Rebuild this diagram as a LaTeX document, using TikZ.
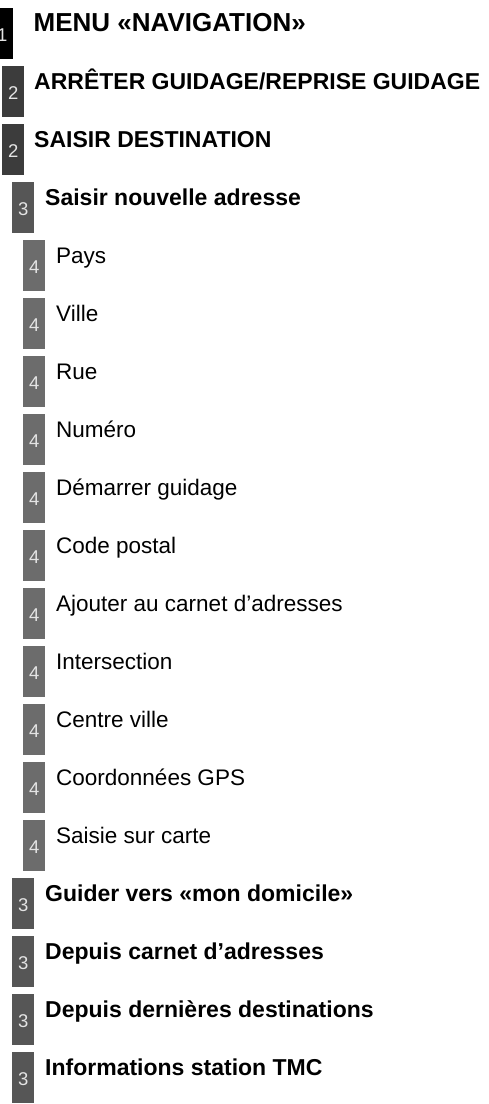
\documentclass[tikz,border=0pt]{standalone}
\usepackage{fontspec}
\setmainfont{Liberation Sans}
\definecolor{lvAcol}{HTML}{000000}
\definecolor{lvBcol}{HTML}{3C3C3C}
\definecolor{lvCcol}{HTML}{565656}
\definecolor{lvDcol}{HTML}{6C6C6C}
\definecolor{numcol}{HTML}{E4E4E4}
\tikzset{
  lvbox/.style={rectangle, inner sep=0pt, minimum width=22pt, minimum height=51pt, anchor=north west, draw=none},
  numtxt/.style={anchor=base, inner sep=0pt, text=numcol, font=\fontsize{18.5}{18.5}\selectfont},
  lvtextA/.style={anchor=base west, inner sep=0pt, font=\fontsize{26}{26}\selectfont\bfseries},
  lvtextB/.style={anchor=base west, inner sep=0pt, font=\fontsize{23}{23}\selectfont\bfseries},
  lvtextC/.style={anchor=base west, inner sep=0pt, font=\fontsize{23}{23}\selectfont\bfseries},
  lvtextD/.style={anchor=base west, inner sep=0pt, font=\fontsize{22.5}{22.5}\selectfont},
}
\newcommand\menuentry[4]{%
  \pgfmathsetmacro\mtop{-(8+58*#2)}%
  \ifcase#3\or
    \def\bx{-9}\def\tx{33.5}\def\lv{A}\or
    \def\bx{2}\def\tx{34}\def\lv{B}\or
    \def\bx{12}\def\tx{45}\def\lv{C}\or
    \def\bx{23}\def\tx{56}\def\lv{D}\fi
  \node[lvbox, fill=lv\lv col] (#1box) at (\bx,\mtop) {};
  \node[numtxt] (#1num) at ([yshift=-33.5pt]#1box.north) {#3};
  \node[lvtext\lv] (#1) at (\tx,\mtop-23) {#4};
}
\begin{document}
\begin{tikzpicture}[x=1pt,y=1pt]
\useasboundingbox (0,0) rectangle (489,-1104);
\clip (0,0) rectangle (489,-1104);
\menuentry{menu}{0}{1}{MENU «NAVIGATION»}
\menuentry{arreter}{1}{2}{ARRÊTER GUIDAGE/REPRISE GUIDAGE}
\menuentry{saisirdest}{2}{2}{SAISIR DESTINATION}
\menuentry{nouvelle}{3}{3}{Saisir nouvelle adresse}
\menuentry{pays}{4}{4}{Pays}
\menuentry{ville}{5}{4}{Ville}
\menuentry{rue}{6}{4}{Rue}
\menuentry{numero}{7}{4}{Numéro}
\menuentry{demarrer}{8}{4}{Démarrer guidage}
\menuentry{codepostal}{9}{4}{Code postal}
\menuentry{ajouter}{10}{4}{Ajouter au carnet d’adresses}
\menuentry{intersection}{11}{4}{Intersection}
\menuentry{centre}{12}{4}{Centre ville}
\menuentry{gps}{13}{4}{Coordonnées GPS}
\menuentry{carte}{14}{4}{Saisie sur carte}
\menuentry{domicile}{15}{3}{Guider vers «mon domicile»}
\menuentry{carnet}{16}{3}{Depuis carnet d’adresses}
\menuentry{dernieres}{17}{3}{Depuis dernières destinations}
\menuentry{tmc}{18}{3}{Informations station TMC}
\end{tikzpicture}
\end{document}
